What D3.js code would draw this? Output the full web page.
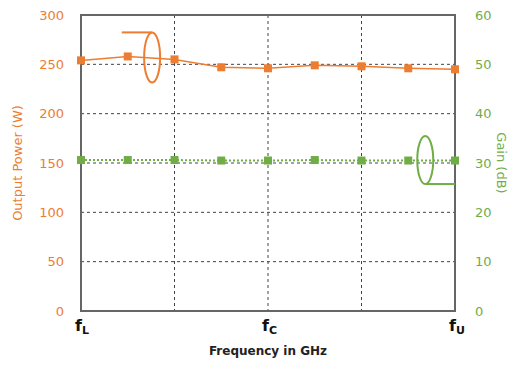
<!DOCTYPE html>
<html><head><meta charset="utf-8">
<script src="https://cdn.jsdelivr.net/npm/d3@7"></script>
<style>body{margin:0;background:#fff}svg{display:block}</style>
</head><body>
<svg id="c" width="514" height="366"></svg>
<script>
const freqIndex = [0,1,2,3,4,5,6,7,8];
const powerW = [254,258,255,247,246,249,248,246,245];
const gainDb = [30.6,30.6,30.6,30.5,30.5,30.6,30.5,30.5,30.5];
const leftTicks = [0,50,100,150,200,250,300];
const rightTicks = [0,10,20,30,40,50,60];
const xTickPos = [0,4,8];
const xTickMain = ["f","f","f"];
const xTickSub = ["L","C","U"];

const orange = "#ED7D31", green = "#70AD47";
const m = {l:81, r:455, t:15, b:311};
const svg = d3.select("#c");
const x = d3.scaleLinear().domain([0,8]).range([m.l,m.r]);
const yL = d3.scaleLinear().domain([0,300]).range([m.b,m.t]);
const yR = d3.scaleLinear().domain([0,60]).range([m.b,m.t]);

// grid
svg.append("g").selectAll("line").data(leftTicks.slice(1,-1)).join("line")
  .attr("x1",m.l).attr("x2",m.r).attr("y1",d=>yL(d)).attr("y2",d=>yL(d))
  .attr("stroke","#444").attr("stroke-width",1).attr("stroke-dasharray","3,3");
svg.append("g").selectAll("line").data([2,4,6]).join("line")
  .attr("y1",m.t).attr("y2",m.b).attr("x1",d=>x(d)).attr("x2",d=>x(d))
  .attr("stroke","#444").attr("stroke-width",1).attr("stroke-dasharray","3,3");

// frame
svg.append("rect").attr("x",m.l).attr("y",m.t).attr("width",m.r-m.l).attr("height",m.b-m.t)
  .attr("fill","none").attr("stroke","#666").attr("stroke-width",2);

// axes
const axL = d3.axisLeft(yL).tickValues(leftTicks).tickSize(0).tickPadding(17);
const gL = svg.append("g").attr("transform",`translate(${m.l},0)`).call(axL);
gL.select(".domain").remove();
gL.selectAll("text").attr("fill",orange).attr("font-family","DejaVu Sans").attr("font-size",13);
const axR = d3.axisRight(yR).tickValues(rightTicks).tickSize(0).tickPadding(20);
const gR = svg.append("g").attr("transform",`translate(${m.r},0)`).call(axR);
gR.select(".domain").remove();
gR.selectAll("text").attr("fill",green).attr("font-family","DejaVu Sans").attr("font-size",13);

// x tick labels
const xt = svg.append("g").selectAll("text").data(xTickPos).join("text")
  .attr("x",d=>x(d)-6).attr("y",331).attr("font-family","DejaVu Sans").attr("font-weight","bold")
  .attr("font-size",16).attr("fill","#111");
xt.append("tspan").text((d,i)=>xTickMain[i]);
xt.append("tspan").attr("font-size",11).attr("dy",3).text((d,i)=>xTickSub[i]);

svg.append("text").attr("x",(m.l+m.r)/2).attr("y",355).attr("text-anchor","middle")
  .attr("font-family","DejaVu Sans").attr("font-weight","bold").attr("font-size",12).attr("fill","#222")
  .text("Frequency in GHz");
svg.append("text").attr("transform",`translate(22,${(m.t+m.b)/2}) rotate(-90)`).attr("text-anchor","middle")
  .attr("font-family","DejaVu Sans").attr("font-size",13).attr("fill",orange).text("Output Power (W)");
svg.append("text").attr("transform",`translate(497,${(m.t+m.b)/2}) rotate(90)`).attr("text-anchor","middle")
  .attr("font-family","DejaVu Sans").attr("font-size",13).attr("fill",green).text("Gain (dB)");

// series
const lineP = d3.line().x((d,i)=>x(freqIndex[i])).y(d=>yL(d));
svg.append("path").datum(powerW).attr("d",lineP).attr("fill","none").attr("stroke",orange).attr("stroke-width",1.5);
svg.append("g").selectAll("rect").data(powerW).join("rect")
  .attr("x",(d,i)=>x(freqIndex[i])-4).attr("y",d=>yL(d)-4).attr("width",8).attr("height",8).attr("fill",orange);

const lineG = d3.line().x((d,i)=>x(freqIndex[i])).y(d=>yR(d));
svg.append("path").datum(gainDb).attr("d",lineG).attr("fill","none").attr("stroke",green).attr("stroke-width",2).attr("stroke-dasharray","2,2");
svg.append("g").selectAll("rect").data(gainDb).join("rect")
  .attr("x",(d,i)=>x(freqIndex[i])-4).attr("y",d=>yR(d)-4).attr("width",8).attr("height",8).attr("fill",green);

// annotations
svg.append("ellipse").attr("cx",x(1.5)+1).attr("cy",yL(255)-2).attr("rx",8).attr("ry",25)
  .attr("fill","none").attr("stroke",orange).attr("stroke-width",2);
svg.append("line").attr("x1",x(1)-6).attr("x2",x(1.5)+1).attr("y1",yL(255)-27).attr("y2",yL(255)-27)
  .attr("stroke",orange).attr("stroke-width",2);
svg.append("ellipse").attr("cx",x(7)+17).attr("cy",yR(30.6)).attr("rx",8).attr("ry",24)
  .attr("fill","none").attr("stroke",green).attr("stroke-width",2);
svg.append("line").attr("x1",x(7)+17).attr("x2",m.r).attr("y1",yR(30.6)+24).attr("y2",yR(30.6)+24)
  .attr("stroke",green).attr("stroke-width",2);
</script>
</body></html>
